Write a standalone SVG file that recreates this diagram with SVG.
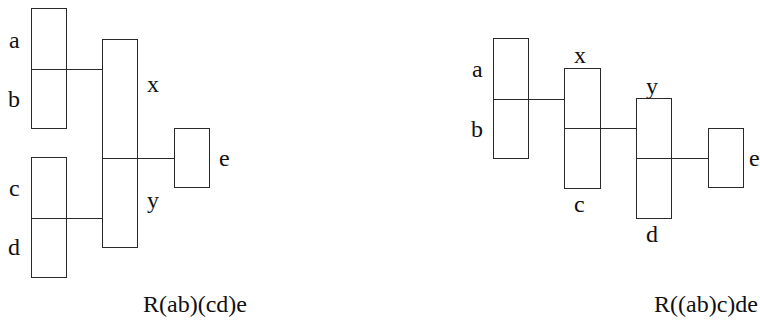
<svg xmlns="http://www.w3.org/2000/svg" width="760" height="322" viewBox="0 0 760 322">
<rect width="760" height="322" fill="#fff"/>
<g id="left-ab" fill="none" stroke="#2a2a2a">
<rect x="31.5" y="8.5" width="35" height="120"/>
<line x1="31.5" y1="69.5" x2="66.5" y2="69.5"/>
</g>
<g id="left-cd" fill="none" stroke="#2a2a2a">
<rect x="31.5" y="157.5" width="35" height="120"/>
<line x1="31.5" y1="218.5" x2="66.5" y2="218.5"/>
</g>
<g id="left-xy" fill="none" stroke="#2a2a2a">
<rect x="102.5" y="39.5" width="35" height="208"/>
<line x1="102.5" y1="158.5" x2="137.5" y2="158.5"/>
</g>
<g id="left-e" fill="none" stroke="#2a2a2a">
<rect x="174.5" y="128.5" width="35" height="59"/>
</g>
<g id="right-ab" fill="none" stroke="#2a2a2a">
<rect x="493.5" y="38.5" width="35" height="120"/>
<line x1="493.5" y1="99.5" x2="528.5" y2="99.5"/>
</g>
<g id="right-xc" fill="none" stroke="#2a2a2a">
<rect x="564.5" y="68.5" width="36" height="120"/>
<line x1="564.5" y1="128.5" x2="600.5" y2="128.5"/>
</g>
<g id="right-yd" fill="none" stroke="#2a2a2a">
<rect x="636.5" y="98.5" width="35" height="120"/>
<line x1="636.5" y1="158.5" x2="671.5" y2="158.5"/>
</g>
<g id="right-e" fill="none" stroke="#2a2a2a">
<rect x="708.5" y="128.5" width="35" height="59"/>
</g>
<g id="connectors" fill="none" stroke="#2a2a2a">
<line x1="66.5" y1="69.5" x2="102.5" y2="69.5"/>
<line x1="66.5" y1="218.5" x2="102.5" y2="218.5"/>
<line x1="137.5" y1="158.5" x2="174.5" y2="158.5"/>
<line x1="528.5" y1="99.5" x2="564.5" y2="99.5"/>
<line x1="600.5" y1="128.5" x2="636.5" y2="128.5"/>
<line x1="671.5" y1="158.5" x2="708.5" y2="158.5"/>
</g>
<g id="labels" font-size="24" fill="#111">
<text x="9" y="48" font-family="Tinos, serif">a</text>
<text x="8" y="107" font-family="Tinos, serif">b</text>
<text x="9" y="196" font-family="Tinos, serif">c</text>
<text x="8" y="255" font-family="Tinos, serif">d</text>
<text x="147" y="92" font-family="Tinos, serif">x</text>
<text x="147" y="208" font-family="Tinos, serif">y</text>
<text x="219" y="166" font-family="Tinos, serif">e</text>
<text x="472" y="77" font-family="Tinos, serif">a</text>
<text x="471" y="137" font-family="Tinos, serif">b</text>
<text x="574" y="63" font-family="Tinos, serif">x</text>
<text x="574" y="212" font-family="Tinos, serif">c</text>
<text x="646" y="94" font-family="Tinos, serif">y</text>
<text x="646" y="242" font-family="Tinos, serif">d</text>
<text x="749" y="166" font-family="Tinos, serif">e</text>
<text x="143" y="312" font-family="Tinos, serif">R(ab)(cd)e</text>
<text x="654" y="312" font-family="Tinos, serif">R((ab)c)de</text>
</g>
</svg>
